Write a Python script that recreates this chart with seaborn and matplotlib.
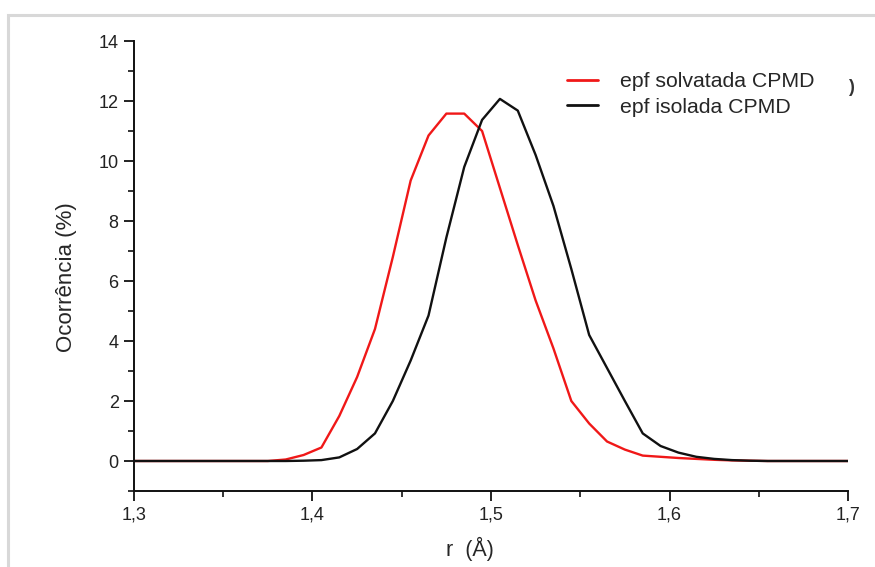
import matplotlib
matplotlib.use("Agg")
import matplotlib.pyplot as plt
import seaborn as sns
import pandas as pd
from matplotlib.patches import Rectangle
from matplotlib.ticker import MultipleLocator

# ---- data ----
r_values = [1.300, 1.375, 1.385, 1.395, 1.405, 1.415, 1.425, 1.435, 1.445, 1.455,
            1.465, 1.475, 1.485, 1.495, 1.505, 1.515, 1.525, 1.535, 1.545, 1.555,
            1.565, 1.575, 1.585, 1.595, 1.605, 1.615, 1.625, 1.635, 1.645, 1.655, 1.700]
solvatada = [0, 0, 0.05, 0.2, 0.45, 1.5, 2.8, 4.4, 6.8, 9.35,
             10.85, 11.58, 11.58, 11.0, 9.1, 7.2, 5.35, 3.75, 2.0, 1.25,
             0.65, 0.38, 0.18, 0.14, 0.1, 0.07, 0.04, 0.02, 0.01, 0, 0]
isolada = [0, 0, 0, 0.01, 0.03, 0.12, 0.4, 0.92, 2.0, 3.35,
           4.85, 7.45, 9.8, 11.37, 12.07, 11.68, 10.2, 8.5, 6.4, 4.2,
           3.1, 2.0, 0.92, 0.5, 0.28, 0.14, 0.07, 0.03, 0.01, 0, 0]
series_names = ["epf solvatada CPMD", "epf isolada CPMD"]
x_ticks = [1.3, 1.4, 1.5, 1.6, 1.7]
x_ticklabels = ["1,3", "1,4", "1,5", "1,6", "1,7"]
y_ticks = [0, 2, 4, 6, 8, 10, 12, 14]

df = pd.concat([
    pd.DataFrame({"r": r_values, "occ": solvatada, "serie": series_names[0]}),
    pd.DataFrame({"r": r_values, "occ": isolada, "serie": series_names[1]}),
], ignore_index=True)

sns.set_style("ticks")
plt.rcParams["font.family"] = ["Liberation Sans", "DejaVu Sans"]

W, H = 875, 567
fig = plt.figure(figsize=(W / 100, H / 100), dpi=100)
ax = fig.add_axes([134 / W, 1 - 491 / H, (848 - 134) / W, (491 - 41) / H])

# frame around picture
fig.patches.append(Rectangle((8 / W, -0.05), 1.2, 1 - 15 / H + 0.05,
                             transform=fig.transFigure, fill=False,
                             edgecolor="#d8d8d8", linewidth=2.2, zorder=0))

sns.lineplot(data=df, x="r", y="occ", hue="serie", hue_order=series_names,
             palette={series_names[0]: "#f01818", series_names[1]: "#111111"},
             linewidth=1.7, ax=ax, sort=False, estimator=None)

ax.set_xlim(1.3, 1.7)
ax.set_ylim(-1, 14)
ax.set_xticks(x_ticks)
ax.set_xticklabels(x_ticklabels)
ax.set_yticks(y_ticks)
ax.xaxis.set_minor_locator(MultipleLocator(0.05))
ax.yaxis.set_minor_locator(MultipleLocator(1))
ax.tick_params(which="major", direction="out", length=7, width=1.3,
               labelsize=13, colors="#111111", labelcolor="#222222", pad=4)
ax.tick_params(which="minor", direction="out", length=4, width=1.2, colors="#111111")
sns.despine(ax=ax)
for s in ["left", "bottom"]:
    ax.spines[s].set_linewidth(1.4)
    ax.spines[s].set_color("#111111")

ax.set_xlabel("r  (Å)", fontsize=15.5)
ax.xaxis.set_label_coords((470 - 134) / (848 - 134), -0.102)
ax.set_ylabel("Ocorrência (%)", fontsize=16)
ax.yaxis.set_label_coords(-0.08, 0.475)

leg = ax.legend(loc="upper left", bbox_to_anchor=(567 / W, 1 - 72 / H),
                bbox_transform=fig.transFigure, frameon=False, fontsize=15.3,
                handlelength=1.45, handletextpad=1.05, labelspacing=0.32,
                borderpad=0, borderaxespad=0)
for line in leg.get_lines():
    line.set_linewidth(2.0)

fig.text(851 / W, 1 - 88 / H, ")", fontsize=13, fontweight="bold",
         ha="center", va="center", color="#333333")

fig.savefig("out.png", dpi=100, facecolor="white")
